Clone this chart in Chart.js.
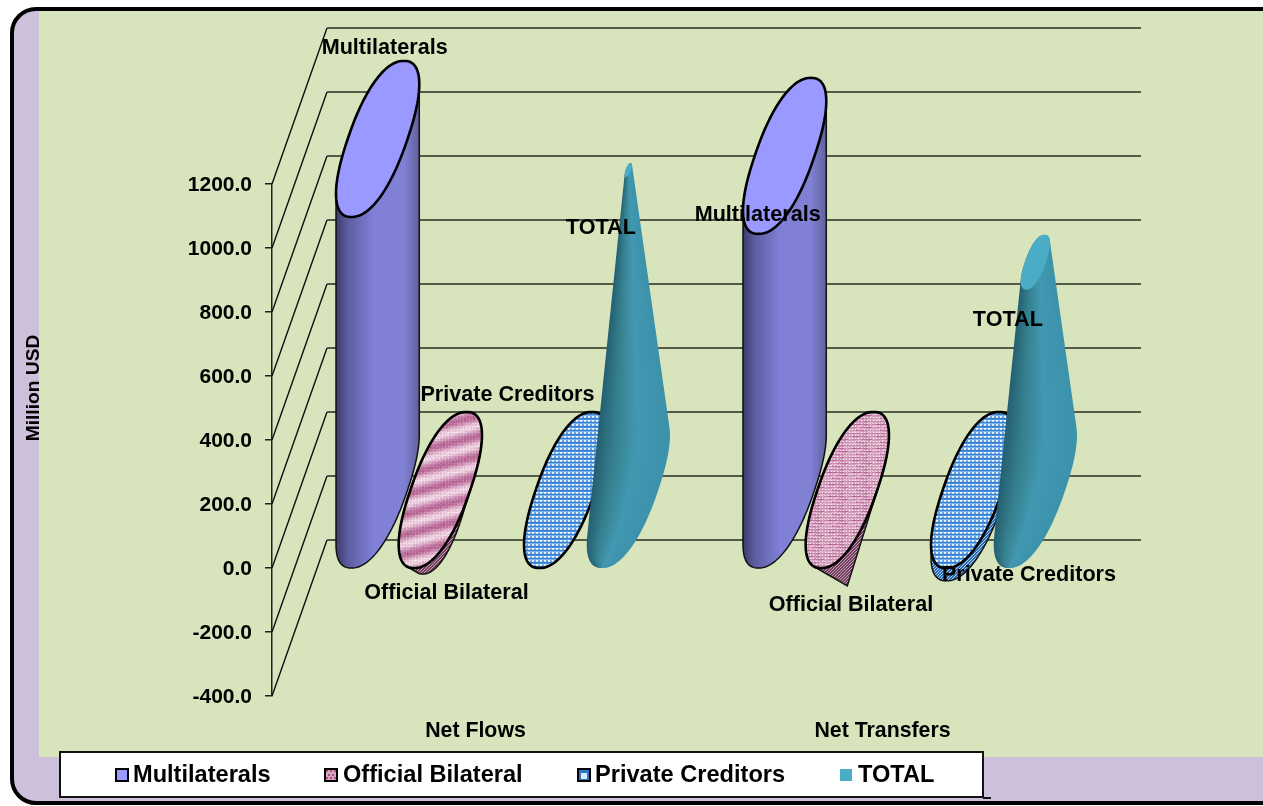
<!DOCTYPE html>
<html>
<head>
<meta charset="utf-8">
<title>Net Flows and Net Transfers</title>
<script src="https://cdn.jsdelivr.net/npm/chart.js@4"></script>
<style>
	html, body { margin: 0; padding: 0; background: #fff; overflow: hidden; }
	canvas { display: block; }
</style>
</head>
<body>
<canvas id="chart" width="1263" height="806"></canvas>
<script>
// Data
const categories = ["Net Flows", "Net Transfers"];
const seriesNames = ["Multilaterals", "Official Bilateral", "Private Creditors", "TOTAL"];
const multilaterals = [1097, 1044];
const officialBilateral = [-100, -300];
const privateCreditors = [0, -40];
const total = [1000, 712];
const yTickMin = -400;
const yTickMax = 1200;
const yTickStep = 200;
const yTitle = "Million USD";

const FONT = "'Liberation Sans', Arial, sans-serif";
// oblique 3D offset of the back wall
const DEPTH_X = 55;
const DEPTH_Y = 156;

// small repeating textures for the hatched series
function makeTile(w, h, colorAt) {
	const c = document.createElement("canvas");
	c.width = w;
	c.height = h;
	const g = c.getContext("2d");
	for (let y = 0; y < h; y++) {
		for (let x = 0; x < w; x++) {
			g.fillStyle = colorAt(x, y);
			g.fillRect(x, y, 1, 1);
		}
	}
	return c;
}

function mix(a, b, t) {
	const r = a.map((v, i) => Math.round(v + (b[i] - v) * t));
	return `rgb(${r[0]},${r[1]},${r[2]})`;
}

function grain(x, y) {
	const s = Math.sin(x * 12.9898 + y * 78.233) * 43758.5453;
	return s - Math.floor(s);
}

const PINK_DARK = [176, 88, 138];
const PINK_LIGHT = [240, 214, 228];

// wide diagonal bands, first cluster
const pinkBands = makeTile(80, 20, (x, y) => {
	const t = 0.5 + 0.5 * Math.sin(2 * Math.PI * (y + x / 4) / 20);
	if (y % 3 == 0 && x % 3 == 0) return mix(PINK_DARK, [255, 245, 250], 0.35 + t * 0.65);
	return mix(PINK_DARK, PINK_LIGHT, Math.min(1, t * 0.8 + grain(x, y) * 0.25));
});
// fine streaks, second cluster
const pinkFine = makeTile(24, 12, (x, y) => {
	if (y % 3 == 0 && x % 3 == 0) return "#f8e8f0";
	const t = y % 3 == 1 ? 0.1 + grain(x >> 2, y) * 0.45 : 0.4 + grain(x, y) * 0.45;
	return mix(PINK_DARK, PINK_LIGHT, t);
});
const pinkDark = makeTile(3, 3, (x, y) => ((x + y) % 3 == 0 ? "#c99ab6" : "#70405f"));
const blueDots = makeTile(8, 8, (x, y) => {
	const row = y % 4;
	if (row == 0) return x % 4 < 2 ? "#f4f8fd" : (y < 4 ? "#6fa9e6" : "#9cc4ee");
	if (row == 1) return x % 4 < 2 ? "#d2e4f7" : "#5d9de0";
	if (row == 2) return "#2f80d2";
	return y < 4 ? "#4b92da" : "#7db1e8";
});
const blueDark = makeTile(3, 3, (x, y) => ((x + y) % 3 == 0 ? "#a9cdf0" : "#2a6cb4"));

// how each series is painted
const seriesLook = [
	{ cap: () => "#9999ff", stops: [[0, "#3c3c6c"], [0.14, "#5c5ca0"], [0.45, "#8080d8"], [0.82, "#8080d4"], [1, "#60609c"]], line: true, cone: false },
	{ cap: (g, j) => g.createPattern(j == 0 ? pinkBands : pinkFine, "repeat"), body: (g) => g.createPattern(pinkDark, "repeat"), line: true, cone: true },
	null, // empty slot in the middle of each cluster
	{ cap: (g) => g.createPattern(blueDots, "repeat"), body: (g) => g.createPattern(blueDark, "repeat"), line: true, cone: false },
	{ cap: () => "#4bacc6", stops: [[0, "#245f70"], [0.25, "#35808f"], [0.55, "#4298b0"], [1, "#3c92aa"]], line: false, cone: true }
];

// label offsets in px from the front of each bar, per category
const labelOffsets = [
	[[34.5, -169], [0.5, -19]],
	[[33.7, -7], [31.2, -59]],
	null,
	[[-30.7, -173], [83.8, -6]],
	[[0, -20], [0, -20]]
];

// the discs are slightly squarer than a true ellipse, as in the picture
const ROUNDNESS = 2 / 2.3;
const DISC_SQUEEZE = 0.955;

function discPoints(cx, cy, a, r) {
	const pts = [];
	for (let i = 0; i < 120; i++) {
		const t = i / 120 * Math.PI * 2;
		const c = Math.sign(Math.cos(t)) * Math.pow(Math.abs(Math.cos(t)), ROUNDNESS);
		const s = Math.sign(Math.sin(t)) * Math.pow(Math.abs(Math.sin(t)), ROUNDNESS);
		pts.push([cx + r * DISC_SQUEEZE * (c * a + s * DEPTH_X / 2), cy - r * s * DEPTH_Y / 2]);
	}
	return pts;
}

function hull(points) {
	const p = points.slice().sort((u, v) => u[0] - v[0] || u[1] - v[1]);
	const cross = (o, u, v) => (u[0] - o[0]) * (v[1] - o[1]) - (u[1] - o[1]) * (v[0] - o[0]);
	const lower = [], upper = [];
	p.forEach(q => {
		while (lower.length > 1 && cross(lower[lower.length - 2], lower[lower.length - 1], q) <= 0) lower.pop();
		lower.push(q);
	});
	p.slice().reverse().forEach(q => {
		while (upper.length > 1 && cross(upper[upper.length - 2], upper[upper.length - 1], q) <= 0) upper.pop();
		upper.push(q);
	});
	return lower.slice(0, -1).concat(upper.slice(0, -1));
}

function tracePoly(g, pts) {
	g.beginPath();
	pts.forEach((q, i) => (i ? g.lineTo(q[0], q[1]) : g.moveTo(q[0], q[1])));
	g.closePath();
}

function gradientFor(g, x0, x1, stops) {
	const grad = g.createLinearGradient(x0, 0, x1, 0);
	stops.forEach(s => grad.addColorStop(s[0], s[1]));
	return grad;
}

// left and right edge of a polygon on one pixel row
function rowSpan(pts, y) {
	let lo = Infinity, hi = -Infinity;
	pts.forEach((q, i) => {
		const n = pts[(i + 1) % pts.length];
		if ((q[1] <= y && n[1] > y) || (n[1] <= y && q[1] > y)) {
			const x = q[0] + (y - q[1]) / (n[1] - q[1]) * (n[0] - q[0]);
			lo = Math.min(lo, x);
			hi = Math.max(hi, x);
		}
	});
	return [lo, hi];
}

function drawBar(g, look, j, x, width, v, yScale, extreme) {
	const a = width / 2;
	const halfW = Math.sqrt(a * a + DEPTH_X * DEPTH_X / 4);
	const cx = x + DEPTH_X / 2;
	// disc centres sit half the depth behind the front plane
	const floor = yScale.getPixelForValue(0) - DEPTH_Y / 2;
	const cyV = yScale.getPixelForValue(v) - DEPTH_Y / 2;
	const r = look.cone ? Math.max(0, 1 - Math.abs(v) / extreme) : 1;

	const base = discPoints(cx, floor, a, 1);
	const end = discPoints(cx, cyV, a, r);
	const shape = hull(base.concat(end));

	g.save();
	if (look.stops && look.cone) {
		// shading follows the narrowing body row by row
		const ys = shape.map(q => q[1]);
		const top = Math.floor(Math.min(...ys)), bottom = Math.ceil(Math.max(...ys));
		tracePoly(g, shape);
		g.clip();
		for (let y = top; y < bottom; y++) {
			const span = rowSpan(shape, y + 0.5);
			if (span[1] <= span[0]) continue;
			g.fillStyle = gradientFor(g, span[0], span[1], look.stops);
			g.fillRect(span[0] - 1, y, span[1] - span[0] + 2, 1);
		}
	} else {
		tracePoly(g, shape);
		g.fillStyle = look.stops ? gradientFor(g, cx - halfW, cx + halfW, look.stops) : look.body(g);
		g.fill();
	}
	g.restore();

	if (look.line) {
		tracePoly(g, shape);
		g.strokeStyle = "#111";
		g.lineWidth = 1.5;
		g.stroke();
	}

	// cap: the upper end of the bar, the 0 plane for negative bars
	tracePoly(g, v >= 0 ? end : base);
	g.fillStyle = look.cap(g, j);
	g.fill();
	if (look.line) {
		g.strokeStyle = "#000";
		g.lineWidth = 2.6;
		g.stroke();
	}
}

const wallPlugin = {
	id: "wall",
	beforeDraw(chart) {
		const g = chart.ctx;
		g.save();
		g.fillStyle = "#fff";
		g.fillRect(0, 0, chart.width, chart.height);
		g.beginPath();
		g.roundRect(12, 9, 1275, 794, 24);
		g.fillStyle = "#ccc0da";
		g.fill();
		g.save();
		g.clip();
		g.fillStyle = "#d8e4bc";
		g.fillRect(39, 0, chart.width, 757);
		g.restore();
		g.strokeStyle = "#000";
		g.lineWidth = 4;
		g.stroke();
		g.restore();
	},
	beforeDatasetsDraw(chart) {
		const g = chart.ctx;
		const y = chart.scales.y;
		const area = chart.chartArea;
		g.save();
		y.ticks.forEach(t => {
			const py = y.getPixelForValue(t.value);
			g.beginPath();
			g.moveTo(area.left, py);
			g.lineTo(area.left + DEPTH_X, py - DEPTH_Y);
			g.strokeStyle = "#111";
			g.lineWidth = 1.4;
			g.stroke();
			g.beginPath();
			g.moveTo(area.left + DEPTH_X, py - DEPTH_Y);
			g.lineTo(area.right + DEPTH_X, py - DEPTH_Y);
			g.strokeStyle = "#2a2d22";
			g.lineWidth = 1.6;
			g.stroke();
		});
		g.restore();
	},
	afterDatasetsDraw(chart) {
		const g = chart.ctx;
		const y = chart.scales.y;
		// cones close at the tallest column above 0, at their own lowest value below it
		const tallest = Math.max(...chart.data.datasets.flatMap(ds => ds.data.map(v => v || 0)));
		chart.data.datasets.forEach((ds, i) => {
			const look = seriesLook[i];
			if (!look) return;
			const lowest = Math.max(...ds.data.map(v => Math.abs(v || 0)));
			chart.getDatasetMeta(i).data.forEach((el, j) => {
				drawBar(g, look, j, el.x, el.width, ds.data[j], y, ds.data[j] >= 0 ? tallest : lowest);
			});
		});

		// series names beside the bars
		g.save();
		g.fillStyle = "#000";
		g.font = "bold 21.6px " + FONT;
		g.textAlign = "center";
		g.textBaseline = "middle";
		chart.data.datasets.forEach((ds, i) => {
			if (!labelOffsets[i]) return;
			chart.getDatasetMeta(i).data.forEach((el, j) => {
				const off = labelOffsets[i][j];
				g.fillText(ds.label, el.x + off[0], y.getPixelForValue(ds.data[j]) + off[1]);
			});
		});

		// axis title
		g.save();
		g.translate(34, 388);
		g.rotate(-Math.PI / 2);
		g.font = "bold 19.2px " + FONT;
		g.fillText(yTitle, 0, 0);
		g.restore();
		g.restore();

		drawLegend(g);
	}
};

function drawLegend(g) {
	const marks = [116, 325, 578, 840];
	const texts = [133, 343, 595, 858];
	g.save();
	g.fillStyle = "#fff";
	g.fillRect(60, 752, 923, 45);
	g.strokeStyle = "#111";
	g.lineWidth = 2;
	g.strokeRect(60, 752, 923, 45);
	g.fillStyle = "#111";
	g.fillRect(983, 797, 8, 2);
	g.font = "bold 23.6px " + FONT;
	g.textBaseline = "middle";
	seriesNames.forEach((name, i) => {
		const look = seriesLook[i < 2 ? i : i + 1];
		const mx = marks[i], my = 769;
		g.fillStyle = i == 1 ? "#d9a3c2" : i == 2 ? "#2f78c8" : look.cap(g, 0);
		g.fillRect(mx, my, 12, 12);
		if (i == 1) {
			g.fillStyle = "#a8507e";
			[[1, 1], [5, 1], [9, 1], [3, 5], [7, 5], [1, 8], [5, 8], [9, 8]].forEach(d => g.fillRect(mx + d[0], my + d[1], 2, 2));
		}
		if (i == 2) {
			g.fillStyle = "#dbe9f8";
			g.fillRect(mx + 3, my + 4, 6, 6);
		}
		if (look.line) {
			g.strokeStyle = "#000";
			g.lineWidth = 2;
			g.strokeRect(mx, my, 12, 12);
		}
		g.fillStyle = "#000";
		g.fillText(name, texts[i], 775.5);
	});
	g.restore();
}

new Chart(document.getElementById("chart"), {
	type: "bar",
	data: {
		labels: categories,
		datasets: [
			{ label: seriesNames[0], data: multilaterals, backgroundColor: "transparent" },
			{ label: seriesNames[1], data: officialBilateral, backgroundColor: "transparent" },
			{ label: "", data: [null, null], backgroundColor: "transparent" },
			{ label: seriesNames[2], data: privateCreditors, backgroundColor: "transparent" },
			{ label: seriesNames[3], data: total, backgroundColor: "transparent" }
		]
	},
	options: {
		responsive: false,
		animation: false,
		events: [],
		categoryPercentage: 0.77,
		barPercentage: 1,
		layout: { padding: { top: 184, right: 177, bottom: 0, left: 0 } },
		plugins: { legend: { display: false }, tooltip: { enabled: false }, title: { display: false } },
		scales: {
			x: {
				grid: { display: false },
				border: { display: false },
				afterFit(scale) { scale.height = 110; },
				ticks: { color: "#000", padding: 14, maxRotation: 0, autoSkip: false, font: { family: FONT, size: 21.3, weight: "bold" } }
			},
			y: {
				min: yTickMin,
				max: yTickMax,
				afterFit(scale) { scale.width = 272; },
				grid: { drawOnChartArea: false, color: "#222", lineWidth: 1.5, tickLength: 7 },
				border: { display: true, color: "#222", width: 1.5 },
				ticks: {
					stepSize: yTickStep,
					padding: 13,
					labelOffset: 1,
					color: "#000",
					font: { family: FONT, size: 21, weight: "bold" },
					callback: v => v.toFixed(1)
				}
			}
		}
	},
	plugins: [wallPlugin]
});
</script>
</body>
</html>
